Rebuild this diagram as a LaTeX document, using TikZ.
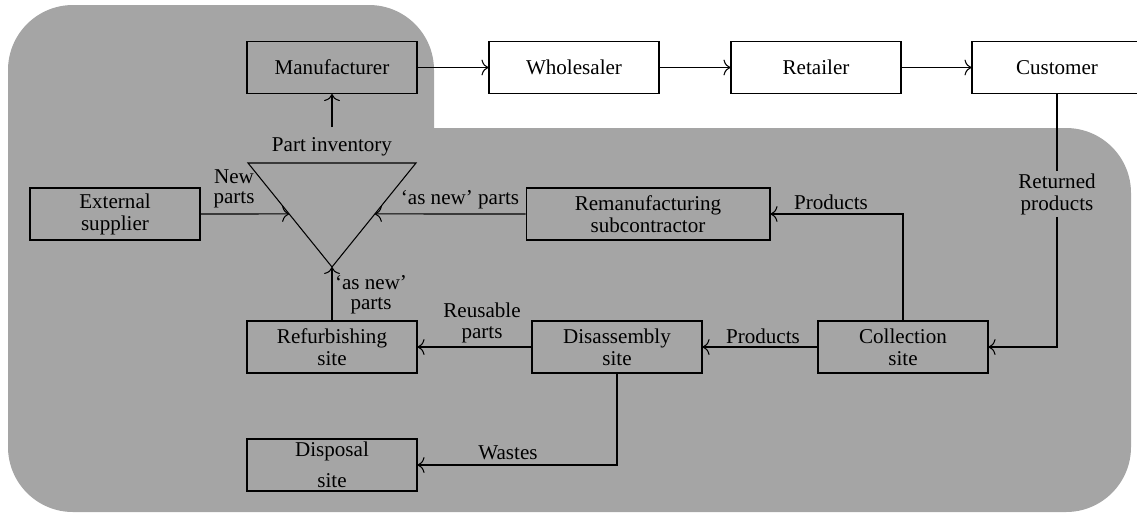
\documentclass[tikz,border=0pt]{standalone}
\usepackage{fontspec}
\setmainfont{Liberation Serif}
\usetikzlibrary{arrows.meta,calc}
\definecolor{bggray}{RGB}{165,165,165}
\tikzset{
  box/.style={draw, minimum width=3.4cm, minimum height=1.04cm, align=center, inner sep=1pt, font=\fontsize{12}{12.5}\selectfont},
  wbox/.style={box, fill=white},
  lbl/.style={align=center, inner sep=1pt, font=\fontsize{12}{12.5}\selectfont},
  >={To[length=4pt,width=9pt]},
}

\begin{document}
\begin{tikzpicture}[x=0.02cm, y=-0.02cm, line width=0.6pt]
  \useasboundingbox (0,0) rectangle (1137,518);
  % Background
  \fill[bggray, rounded corners=1.3cm] (8,5) rectangle (434,300);
  \fill[bggray, rounded corners=1.3cm] (8,128) rectangle (1131,512);
  % Define nodes
  \node[box]  (man) at (332,67.5) {Manufacturer};
  \node[wbox] (whl) at (574,67.5) {Wholesaler};
  \node[wbox] (rtl) at (816,67.5) {Retailer};
  \node[wbox] (cus) at (1057,67.5) {Customer};
  \node[box]  (ext) at (115,214) {External\\supplier};
  \node[box, minimum width=4.88cm] (rem) at (648,214) {Remanufacturing\\subcontractor};
  \node[box]  (ref) at (332,347) {Refurbishing\\site};
  \node[box]  (dis) at (617,347) {Disassembly\\site};
  \node[box]  (col) at (903,347) {Collection\\site};
  \node[box]  (dsp) at (332,465) {Disposal\\[5pt]site};
  % Part inventory
  \coordinate (tl) at (248,163);
  \coordinate (tr) at (416,163);
  \coordinate (tb) at (332,267);
  \draw (tl) -- (tr) -- (tb) -- cycle;
  \coordinate (tin) at ($(tl)!0.49!(tb)$);
  \coordinate (tout) at ($(tr)!0.49!(tb)$);
  \coordinate (ttop) at (332,127);
  % Labels
  \node[lbl] (inv) at (332,147) {Part inventory};
  \node[lbl] (np)  at (234,189) {New\\[-1pt]parts};
  \node[lbl] (anp) at (460,200) {`as new' parts};
  \node[lbl] (pr1) at (831,202) {Products};
  \node[lbl] (rp)  at (1057,194) {Returned\\products};
  \node[lbl] (anr) at (371,295) {`as new'\\[-1pt]parts};
  \node[lbl] (rup) at (482,323) {Reusable\\[-1pt]parts};
  \node[lbl] (pr2) at (763,336) {Products};
  \node[lbl] (wst) at (508,453) {Wastes};
  % Connect nodes
  \draw[->] (man) -- (whl);
  \draw[->] (whl) -- (rtl);
  \draw[->] (rtl) -- (cus);
  \draw[->] (ttop) -- (man);
  \draw[->] (ext) -- (tin);
  \draw[->] (rem) -- (tout);
  \draw (cus) -- (rp);
  \draw[->] (rp) |- (col);
  \draw[->] (col) |- (rem);
  \draw[->] (col) -- (dis);
  \draw[->] (dis) -- (ref);
  \draw[->] (ref) -- (tb);
  \draw[->] (dis) |- (dsp);
\end{tikzpicture}
\end{document}
